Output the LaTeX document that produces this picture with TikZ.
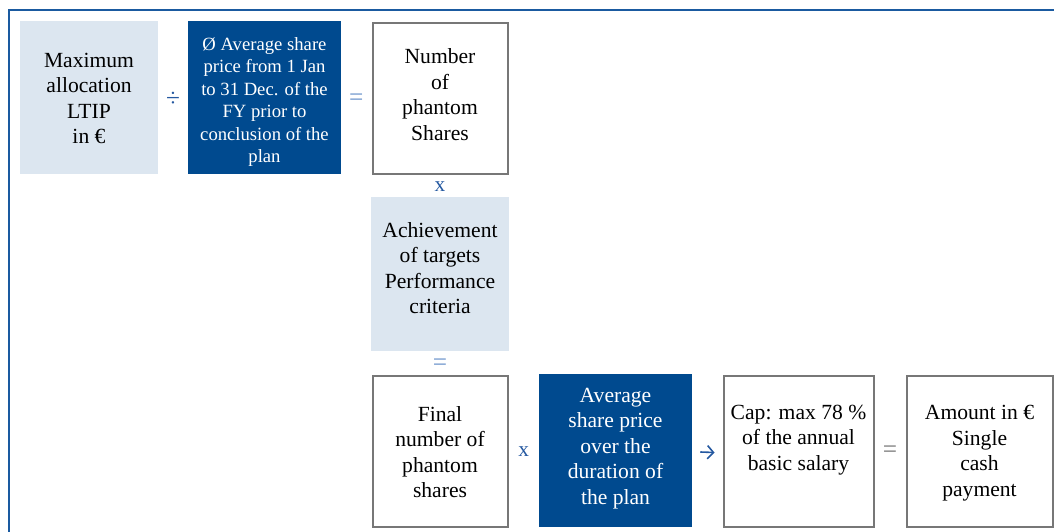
\documentclass[tikz,border=0pt]{standalone}
\usepackage{fontspec}
\setmainfont{Liberation Serif}
\usetikzlibrary{calc,arrows.meta}
\definecolor{lightbox}{HTML}{DCE6F0}
\definecolor{darkbox}{HTML}{004A8F}
\definecolor{framecol}{HTML}{1A5AA0}
\definecolor{opdark}{HTML}{2458A0}
\definecolor{oplight}{HTML}{6F96CC}
\definecolor{graybord}{HTML}{777777}
\tikzset{
  lightstyle/.style={rectangle, fill=lightbox, draw=none, inner sep=0pt},
  darkstyle/.style={rectangle, fill=darkbox, draw=none, inner sep=0pt},
  whitestyle/.style={rectangle, fill=white, draw=graybord, line width=1.5pt, inner sep=0pt},
  bigtxt/.style={align=center, inner sep=0pt, font=\fontsize{16.2pt}{19.1pt}\selectfont},
  smalltxt/.style={align=center, inner sep=0pt, text=white, font=\fontsize{14pt}{16.8pt}\selectfont},
  optxt/.style={inner sep=0pt, font=\fontsize{16pt}{18pt}\selectfont},
  bigop/.style={inner sep=0pt, font=\fontsize{19pt}{20pt}\selectfont},
  arrowsym/.style={draw=opdark, line width=1.2pt, -{Straight Barb[length=4.5pt,width=10pt,line width=1.2pt]}},
}
\begin{document}
\begin{tikzpicture}[x=0.75pt,y=-0.75pt]
\useasboundingbox (0,0) rectangle (1054,532);
% frame
\draw[framecol, line width=1.6pt] (9,540) -- (9,10) -- (1060,10);
% boxes
\node[lightstyle, minimum width=103.5pt, minimum height=114.75pt] (b1) at (89,97.5) {};
\node[darkstyle, minimum width=114.75pt, minimum height=114.75pt] (b2) at (264.5,97.5) {};
\node[whitestyle, minimum width=101.25pt, minimum height=113.25pt] (b3) at (440,98) {};
\node[lightstyle, minimum width=103.5pt, minimum height=115.5pt] (b4) at (440,274) {};
\node[whitestyle, minimum width=101.25pt, minimum height=113.25pt] (b5) at (440,451) {};
\node[darkstyle, minimum width=114.75pt, minimum height=114.75pt] (b6) at (615.5,450.5) {};
\node[whitestyle, minimum width=112.5pt, minimum height=113.25pt] (b7) at (798.5,451) {};
\node[whitestyle, minimum width=109.5pt, minimum height=113.25pt] (b8) at (979.5,451) {};
% texts
\node[bigtxt] (t1) at ($(b1.center)+(0,1)$) {Maximum\\allocation\\LTIP\\in €};
\node[smalltxt] (t2) at ($(b2.center)+(0,4.5)$) {Ø Average share\\price from 1 Jan\\to 31 Dec. of the\\FY prior to\\conclusion of the\\plan};
\node[bigtxt] (t3) at ($(b3.center)+(0,-3.5)$) {Number\\of\\phantom\\Shares};
\node[bigtxt] (t4) at ($(b4.center)+(0,-6)$) {Achievement\\of targets\\Performance\\criteria};
\node[bigtxt] (t5) at ($(b5.center)+(0,1)$) {Final\\number of\\phantom\\shares};
\node[bigtxt, text=white] (t6) at ($(b6.center)+(0,-2)$) {Average\\share price\\over the\\duration of\\the plan};
\node[bigtxt] (t7) at ($(b7.center)+(0,-11)$) {Cap: max 78 \%\\of the annual\\basic salary};
\node[bigtxt] (t8) at ($(b8.center)+(0,2)$) {Amount in €\\Single\\cash\\payment};
% operators
\node[bigop, text=opdark] (o1) at ($(b1.east)!0.5!(b2.west)+(0,2)$) {÷};
\node[bigop, text=oplight] (o2) at ($(b2.east)!0.5!(b3.west)+(0,2)$) {=};
\node[optxt, text=opdark] (o3) at ($(b3.south)!0.5!(b4.north)+(0,1)$) {x};
\node[bigop, text=oplight] (o4) at ($(b4.south)!0.5!(b5.north)+(0,2)$) {=};
\node[optxt, text=opdark] (o5) at ($(b5.east)!0.5!(b6.west)+(0,1)$) {x};
\coordinate (a1) at ($(b6.east)+(8,1.5)$);
\coordinate (a2) at ($(b7.west)+(-8,1.5)$);
\draw[arrowsym] (a1) -- (a2);
\node[bigop, text=graybord] (o7) at ($(b7.east)!0.5!(b8.west)+(0,1)$) {=};
\end{tikzpicture}
\end{document}
